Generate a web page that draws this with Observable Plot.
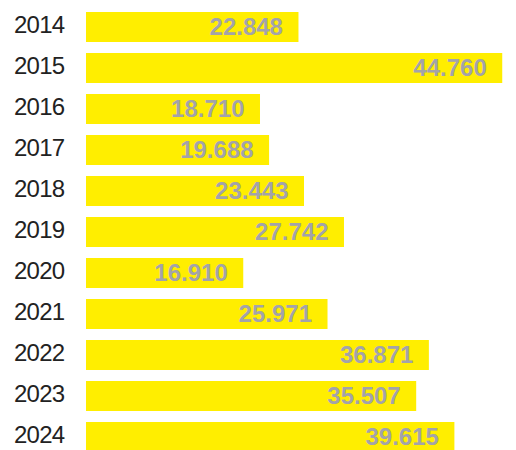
<!DOCTYPE html>
<html>
<head>
<meta charset="utf-8">
<script src="https://cdn.jsdelivr.net/npm/d3@7"></script>
<script src="https://cdn.jsdelivr.net/npm/@observablehq/plot@0.6"></script>
<style>
  html, body { margin: 0; padding: 0; background: #fff; }
  #chart svg { display: block; }
  .yr text { letter-spacing: -0.7px; }
</style>
</head>
<body>
<div id="chart"></div>
<script>
const years = ["2014","2015","2016","2017","2018","2019","2020","2021","2022","2023","2024"];
const values = [22848, 44760, 18710, 19688, 23443, 27742, 16910, 25971, 36871, 35507, 39615];

const data = years.map((year, i) => ({year, value: values[i]}));
const fmt = d3.formatLocale({decimal: ",", thousands: ".", grouping: [3], currency: ["", "€"]}).format(",d");

const chart = Plot.plot({
  width: 516,
  height: 450,
  marginLeft: 86,
  marginRight: 0,
  marginTop: 0,
  marginBottom: 0,
  style: {fontFamily: "Liberation Sans, Arial, sans-serif", background: "#fff"},
  x: {domain: [0, 46240], range: [86, 516], axis: null},
  y: {domain: years, range: [0, 464], paddingInner: 0.272, paddingOuter: 0.272, label: null},
  marks: [
    Plot.barX(data, {x: "value", y: "year", fill: "#FFEE00"}),
    Plot.text(data, {
      x: "value", y: "year", text: d => fmt(d.value),
      textAnchor: "end", dx: -16, dy: 0,
      fill: "#A3A3AA", fontSize: 24, fontWeight: "bold"
    }),
    Plot.axisY({tickSize: 0, tickPadding: 22, fontSize: 24, dy: -2, label: null, color: "#222", className: "yr"})
  ]
});
document.getElementById("chart").appendChild(chart);
</script>
</body>
</html>
